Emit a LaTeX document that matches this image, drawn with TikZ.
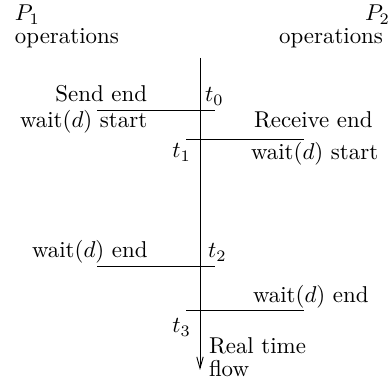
\documentclass[tikz,border=0pt]{standalone}
\usetikzlibrary{arrows.meta}
\begin{document}
\begin{tikzpicture}[x=0.4367pt,y=-0.4367pt,
  lbl/.style={inner sep=0pt,outer sep=0pt},
  tick/.style={line width=0.4pt},
  axis/.style={line width=0.4pt,-{Straight Barb[length=5pt,width=2.8pt]}}]
\useasboundingbox (0,0) rectangle (392,385);
% headers
\node[lbl,anchor=base west] (p1) at (15,21) {$P_1$};
\node[lbl,anchor=base west] (op1) at (15,44) {operations};
\node[lbl,anchor=base east] (p2) at (390,21) {$P_2$};
\node[lbl,anchor=base east] (op2) at (383,44) {operations};
% time axis
\coordinate (top) at (200,58);
\coordinate (bot) at (200,370);
\draw[axis] (top) -- (bot);
% t0
\coordinate (a0) at (97,110);
\coordinate (b0) at (215,110);
\draw[tick] (a0) -- (b0);
\node[lbl,anchor=base east] (sendend) at (147,102) {Send end};
\node[lbl,anchor=base west] (t0) at (205,102) {$t_0$};
\node[lbl,anchor=base west] (w1s) at (20,128) {wait$(d)$ start};
% t1
\coordinate (a1) at (186,139);
\coordinate (b1) at (304,139);
\draw[tick] (a1) -- (b1);
\node[lbl,anchor=base west] (recend) at (254,128) {Receive end};
\node[lbl,anchor=base east] (t1) at (191,158) {$t_1$};
\node[lbl,anchor=base west] (w2s) at (251,160) {wait$(d)$ start};
% t2
\coordinate (a2) at (97,266);
\coordinate (b2) at (215,266);
\draw[tick] (a2) -- (b2);
\node[lbl,anchor=base west] (w1e) at (32,258) {wait$(d)$ end};
\node[lbl,anchor=base west] (t2) at (208,258) {$t_2$};
% t3
\coordinate (a3) at (186,310);
\coordinate (b3) at (304,310);
\draw[tick] (a3) -- (b3);
\node[lbl,anchor=base west] (w2e) at (253,303) {wait$(d)$ end};
\node[lbl,anchor=base east] (t3) at (191,333) {$t_3$};
% flow label
\node[lbl,anchor=base west] (rt) at (209,354) {Real time};
\node[lbl,anchor=base west] (fl) at (209,377) {flow};
\end{tikzpicture}
\end{document}
